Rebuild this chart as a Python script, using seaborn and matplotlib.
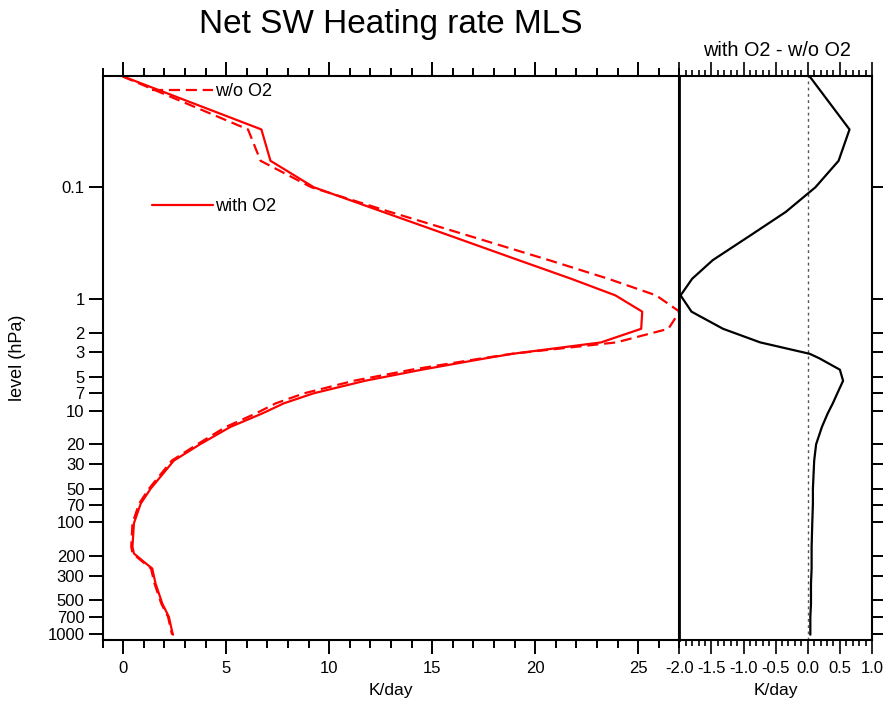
import numpy as np
import pandas as pd
import matplotlib
matplotlib.use("Agg")
import matplotlib.pyplot as plt
from matplotlib.ticker import FixedLocator, MultipleLocator, NullLocator, FixedFormatter
import seaborn as sns

# ---------------- data ----------------
levels = [0.0102, 0.0304, 0.058, 0.10, 0.166, 0.26, 0.45, 0.66, 0.93, 1.3, 1.85,
          2.45, 3.1, 3.4, 4.3, 5.4, 7.0, 8.6, 10.6, 14, 20, 28, 50, 68, 102, 166,
          190, 226, 259, 353, 534, 703, 958, 1013]
with_o2 = [0.0, 6.71, 7.15, 9.25, 12.6, 15.58, 19.2, 21.75, 23.9, 25.2, 25.15,
           23.2, 18.9, 17.6, 14.5, 11.75, 9.24, 7.8, 6.75, 5.2, 3.73, 2.46, 1.33,
           0.85, 0.52, 0.45, 0.52, 1.01, 1.41, 1.57, 1.9, 2.22, 2.38, 2.42]
wo_o2 = [-0.03, 6.06, 6.67, 9.13, 12.94, 16.43, 20.68, 23.55, 25.88, 27.01, 26.47,
         23.94, 18.87, 17.42, 14.0, 11.2, 8.78, 7.41, 6.44, 4.98, 3.6, 2.36, 1.25,
         0.77, 0.45, 0.39, 0.46, 0.95, 1.35, 1.52, 1.85, 2.18, 2.34, 2.38]
ytick_vals = [0.1, 1, 2, 3, 5, 7, 10, 20, 30, 50, 70, 100, 200, 300, 500, 700, 1000]
ytick_labels = ["0.1", "1", "2", "3", "5", "7", "10", "20", "30", "50", "70",
                "100", "200", "300", "500", "700", "1000"]
xticks_left = [0, 5, 10, 15, 20, 25]
xticks_right = [-2.0, -1.5, -1.0, -0.5, 0.0, 0.5, 1.0]

df = pd.DataFrame({"level": levels, "with": with_o2, "wo": wo_o2})
df["diff"] = df["with"] - df["wo"]

# ---------------- style ----------------
sns.set_style("ticks")
plt.rcParams["font.family"] = ["Liberation Sans", "DejaVu Sans"]
plt.rcParams["axes.unicode_minus"] = False
for k in ("text.color", "axes.labelcolor", "xtick.color", "ytick.color",
          "axes.edgecolor"):
    plt.rcParams[k] = "black"

W, H = 883, 708
fig = plt.figure(figsize=(W / 100, H / 100), dpi=100)

def frac(x0, x1, ytop, ybot):
    return [x0 / W, 1 - ybot / H, (x1 - x0) / W, (ybot - ytop) / H]

axL = fig.add_axes(frac(102.6, 679.3, 75.5, 640))
axR = fig.add_axes(frac(679.3, 872, 75.5, 640))

red = "#ff0000"
lw = 1.6
sns.lineplot(data=df, x="wo", y="level", ax=axL, sort=False, estimator=None,
             color=red, lw=lw, linestyle=(0, (5, 2.6)))
sns.lineplot(data=df, x="with", y="level", ax=axL, sort=False, estimator=None,
             color=red, lw=lw)
sns.lineplot(data=df, x="diff", y="level", ax=axR, sort=False, estimator=None,
             color="black", lw=lw)
axR.axvline(0, color="#555555", lw=1.0, linestyle=(0, (2, 2.5)), zorder=1)

for ax in (axL, axR):
    ax.set_yscale("log")
    ax.set_ylim(1130, 0.01)
    for s in ax.spines.values():
        s.set_linewidth(1.5)
        s.set_color("black")
    ax.set_ylabel("")
    ax.yaxis.set_minor_locator(NullLocator())

# left panel
axL.set_xlim(-1, 27)
axL.xaxis.set_major_locator(FixedLocator(xticks_left))
axL.xaxis.set_minor_locator(MultipleLocator(1))
axL.yaxis.set_major_locator(FixedLocator(ytick_vals))
axL.yaxis.set_major_formatter(FixedFormatter(ytick_labels))
axL.tick_params(axis="x", which="both", direction="out", top=True, bottom=True,
                labeltop=False, labelsize=12, width=1.4, pad=5, colors="black")
axL.tick_params(axis="x", which="major", length=10)
axL.tick_params(axis="x", which="minor", length=5.5)
axL.tick_params(axis="y", which="major", direction="out", left=True, right=False,
                length=10, width=1.4, labelsize=12, pad=3, colors="black")
axL.set_xlabel("K/day", fontsize=12.5, labelpad=5, color="black")
axL.set_ylabel("level (hPa)", fontsize=13, color="black")
axL.yaxis.set_label_coords((26 - 102.6) / 576.7, 0.5)

# right panel
axR.set_xlim(-2, 1)
axR.xaxis.set_major_locator(FixedLocator(xticks_right))
axR.xaxis.set_major_formatter(FixedFormatter([f"{v:.1f}" for v in xticks_right]))
axR.xaxis.set_minor_locator(MultipleLocator(0.1))
axR.tick_params(axis="x", which="both", direction="out", top=True, bottom=True,
                labeltop=False, labelsize=12, width=1.2, pad=5, colors="black")
axR.tick_params(axis="x", which="major", length=10)
axR.tick_params(axis="x", which="minor", length=4.5)
axR.yaxis.set_major_locator(FixedLocator(ytick_vals))
axR.tick_params(axis="y", which="major", direction="out", left=False, right=True,
                labelleft=False, labelright=False, length=8, width=1.4, colors="black")
axR.spines["left"].set_linewidth(2.0)
axR.set_xlabel("K/day", fontsize=12.5, labelpad=5, color="black")

# legend
hs = axL.get_lines()
axL.legend(handles=[hs[0], hs[1]], labels=["w/o O2", "with O2"], loc="upper left",
           bbox_to_anchor=((152 - 102.6) / 576.7, (640 - 83) / 564.5),
           frameon=False, fontsize=13, handlelength=3.4, handletextpad=0.1,
           labelspacing=5.45, borderpad=0, borderaxespad=0, labelcolor="black")

# titles
fig.text(391 / W, 1 - 25 / H, "Net SW Heating rate MLS", ha="center", va="center",
         fontsize=24, color="black")
fig.text(777 / W, 1 - 50 / H, "with O2 - w/o O2", ha="center", va="center",
         fontsize=14.3, color="black")

fig.savefig("out.png", dpi=100)
